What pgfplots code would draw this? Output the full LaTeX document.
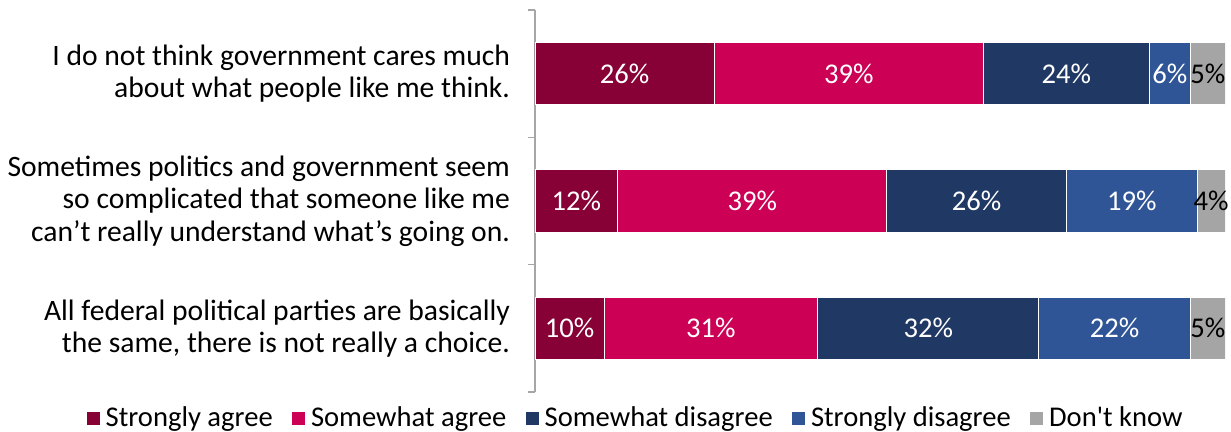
\documentclass[border=0pt]{standalone}
\usepackage{pgfplots}
\pgfplotsset{compat=1.18}
\usepackage{fontspec}
\setmainfont{Carlito}
\definecolor{c1}{HTML}{870036}
\definecolor{c2}{HTML}{CC0055}
\definecolor{c3}{HTML}{203864}
\definecolor{c4}{HTML}{2F5597}
\definecolor{c5}{HTML}{A5A5A5}
\definecolor{axgray}{HTML}{A6A6A6}
\begin{document}
\begin{tikzpicture}[font=\fontsize{14.3pt}{16pt}\selectfont]
\useasboundingbox (-267.5pt,-20pt) rectangle (348pt,196pt);
\begin{axis}[
  at={(0,0)}, anchor=south west,
  scale only axis, width=345pt, height=191pt,
  xbar stacked, bar width=0.49,
  xmin=0, xmax=100, ymin=-0.5, ymax=2.5, y dir=reverse,
  axis x line=none, axis y line*=left,
  ytick={0,1,2},
  yticklabels={{I do not think government cares much\\about what people like me think.},
               {Sometimes politics and government seem\\so complicated that someone like me\\can’t really understand what’s going on.},
               {All federal political parties are basically\\the same, there is not really a choice.}},
  major tick length=0pt,
  minor ytick={-0.5,0.5,1.5,2.5}, minor tick length=3.5pt, tick align=outside,
  y axis line style={axgray, line width=0.8pt},
  minor tick style={axgray, line width=0.8pt},
  yticklabel style={align=right, text=black, xshift=-9pt, font=\fontsize{14.8pt}{16.2pt}\selectfont},
  legend style={draw=none, legend columns=-1, at={(0.1475,-0.068)}, anchor=center,
    font=\fontsize{14.3pt}{16pt}\selectfont,
    /tikz/every even column/.append style={column sep=6.75pt},
    nodes={inner xsep=2.5pt}},
  legend image code/.code={\fill[#1] (0pt,-3.5pt) rectangle (7pt,3.5pt);},
  every axis plot/.append style={draw=white, line width=0.4pt},
]
\addplot[fill=c1] coordinates {(26,0) (12,1) (10,2)};
\addplot[fill=c2] coordinates {(39,0) (39,1) (31,2)};
\addplot[fill=c3] coordinates {(24,0) (26,1) (32,2)};
\addplot[fill=c4] coordinates {(6,0) (19,1) (22,2)};
\addplot[fill=c5] coordinates {(5,0) (4,1) (5,2)};
\legend{Strongly agree, Somewhat agree, Somewhat disagree, Strongly disagree, Don\textquotesingle t know}
\end{axis}
\begin{axis}[
  at={(0,0)}, anchor=south west,
  scale only axis, width=345pt, height=191pt,
  xmin=0, xmax=100, ymin=-0.5, ymax=2.5, y dir=reverse,
  hide axis,
  nodes near coords style={anchor=center, inner sep=0pt, font=\fontsize{14.3pt}{16pt}\selectfont},
]
\addplot[draw=none, mark=none, nodes near coords, point meta=explicit symbolic,
  nodes near coords style={text=white}] coordinates {
  (13,0) [26\%] (45.5,0) [39\%] (77,0) [24\%] (92,0) [6\%]
  (6,1) [12\%] (31.5,1) [39\%] (64,1) [26\%] (86.5,1) [19\%]
  (5,2) [10\%] (25.5,2) [31\%] (57,2) [32\%] (84,2) [22\%]
};
\addplot[draw=none, mark=none, nodes near coords, point meta=explicit symbolic,
  nodes near coords style={text=black}] coordinates {
  (97.5,0) [5\%] (98,1) [4\%] (97.5,2) [5\%]
};
\end{axis}
\end{tikzpicture}
\end{document}
